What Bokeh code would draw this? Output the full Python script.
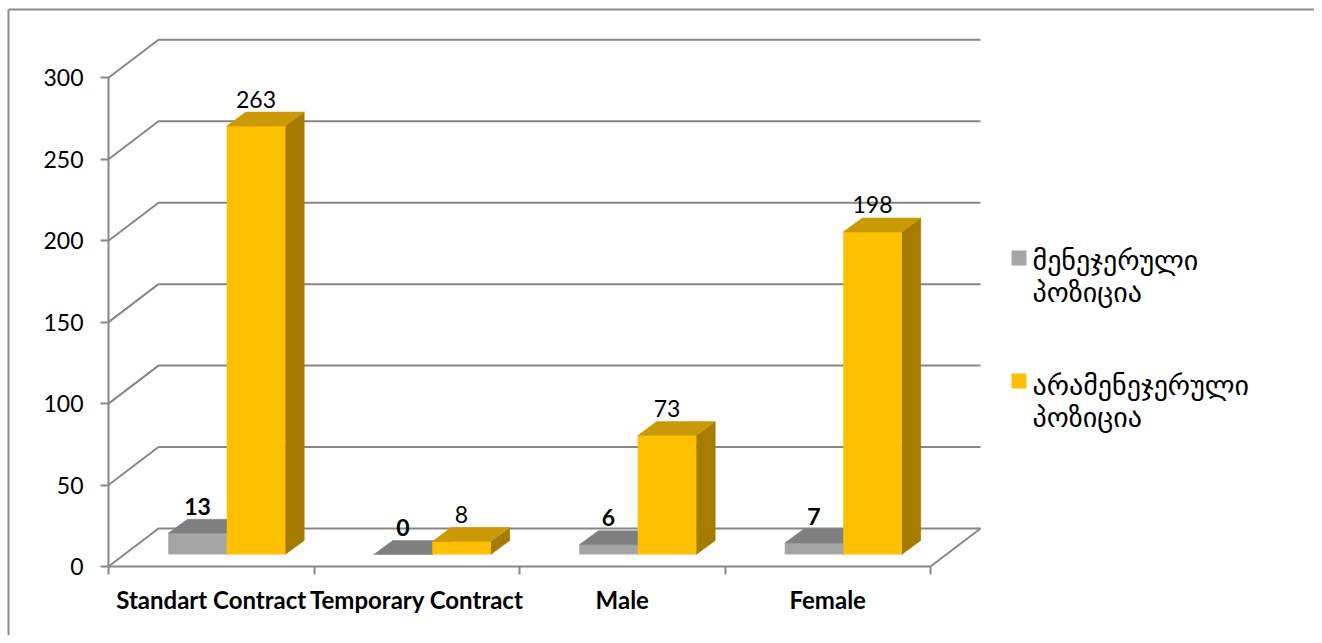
from bokeh.plotting import figure
from bokeh.models import Range1d, LinearAxis, FixedTicker, ColumnDataSource
from bokeh.embed import file_html
from bokeh.resources import INLINE
from bokeh.core.properties import value

# ---------------- data ----------------
categories = ["Standart Contract", "Temporary Contract", "Male", "Female"]
series_names = ["მენეჯერული პოზიცია", "არამენეჯერული პოზიცია"]
managerial = [13, 0, 6, 7]
non_managerial = [263, 8, 73, 198]
y_ticks = [0, 50, 100, 150, 200, 250, 300]

# ---------------- styling / projection ----------------
W, H = 1314, 635
PX_X = 205.5          # pixels per category
PX_Y = 1.629          # pixels per value unit
ORIGIN_X = 108        # px from canvas left to the front axis corner
ORIGIN_Y = 69         # px from canvas bottom to the front axis corner
WALL_DX, WALL_DY = 50 / PX_X, 38 / PX_Y
BAR_DX, BAR_DY = 19 / PX_X, 14 / PX_Y
BAR_W = 58.5 / PX_X
FX, FY = (WALL_DX - BAR_DX) / 2, (WALL_DY - BAR_DY) / 2
GRID = "#878787"
FONT = "Lato"
series_colors = [
    dict(front="#A5A5A5", top="#7F7F7F", side="#6F6F6F"),
    dict(front="#FFC000", top="#C99A06", side="#A57C00"),
]

n = len(categories)
xs0 = -ORIGIN_X / PX_X
ys0 = -ORIGIN_Y / PX_Y
xe0 = xs0 + W / PX_X
ye0 = ys0 + H / PX_Y


def sx(px):   # canvas px (from left) -> data x
    return xs0 + px / PX_X


def sy(py):   # canvas px (from top) -> data y
    return ye0 - py / PX_Y


p = figure(width=W, height=H,
           x_range=Range1d(xs0, xe0), y_range=Range1d(ys0, ye0),
           output_backend="svg", toolbar_location=None,
           x_axis_location=None, y_axis_location=None,
           min_border=0, min_border_left=0, min_border_right=0,
           min_border_top=0, min_border_bottom=0,
           outline_line_color=None, background_fill_color="white",
           border_fill_color="white")
p.xgrid.visible = False
p.ygrid.visible = False

# outer chart border (top and left visible)
p.segment(x0=[sx(8), sx(8)], y0=[sy(9), ys0], x1=[xe0, sx(8)], y1=[sy(9), sy(9)],
          line_color="#8c8c8c", line_width=2)

# walls: left-wall diagonals and back-wall gridlines
gx, gy = [], []
top = max(y_ticks)
for v in y_ticks:
    gx.append([0, WALL_DX, n + WALL_DX])
    gy.append([v, v + WALL_DY, v + WALL_DY])
gx.append([n, n + WALL_DX])
gy.append([0, WALL_DY])
p.multi_line(xs=gx, ys=gy, line_color=GRID, line_width=2)

# bars
for s, vals in enumerate([managerial, non_managerial]):
    col = series_colors[s]
    L, R, B, T = [], [], [], []
    top_x, top_y, side_x, side_y = [], [], [], []
    for i, v in enumerate(vals):
        c = i + 0.5 + FX
        x0 = c - BAR_W if s == 0 else c
        x1 = x0 + BAR_W
        y0 = FY
        y1 = FY + v
        L.append(x0); R.append(x1); B.append(y0); T.append(y1)
        top_x.append([x0, x1, x1 + BAR_DX, x0 + BAR_DX])
        top_y.append([y1, y1, y1 + BAR_DY, y1 + BAR_DY])
        side_x.append([x1, x1 + BAR_DX, x1 + BAR_DX, x1])
        side_y.append([y0, y0 + BAR_DY, y1 + BAR_DY, y1])
    p.patches(xs=side_x, ys=side_y, fill_color=col["side"], line_color=col["side"], line_width=0.5)
    p.quad(left=L, right=R, bottom=B, top=T, fill_color=col["front"], line_color=None)
    p.patches(xs=top_x, ys=top_y, fill_color=col["top"], line_color=col["top"], line_width=0.5)
    src = ColumnDataSource(dict(x=[(a + b) / 2 for a, b in zip(L, R)],
                                y=[t + BAR_DY for t in T],
                                t=[str(v) for v in vals]))
    p.text(x="x", y="y", text="t", source=src, text_align="center",
           text_baseline="alphabetic", y_offset=-13,
           text_font=value(FONT), text_font_size="23px",
           text_font_style="bold" if s == 0 else "normal", text_color="black")

# legend (square marker + two-line label per series)
LEG_SQ_X = 1018.5
LEG_SQ_Y = [257.5, 380.5]
LEG_TEXT_X = 1032
LEG_BASE = [260, 385]
LEG_LINE = 32
for s, name in enumerate(series_names):
    p.scatter(x=[sx(LEG_SQ_X)], y=[sy(LEG_SQ_Y[s])], marker="square", size=15,
              fill_color=series_colors[s]["front"], line_color=None)
    lines = name.split(" ")
    p.text(x=[sx(LEG_TEXT_X)] * len(lines),
           y=[sy(LEG_BASE[s] + k * LEG_LINE) for k in range(len(lines))],
           text=lines, text_align="left", text_baseline="alphabetic",
           text_font=value("DejaVu Sans"), text_font_size="28px", text_color="black")

# axes
yaxis = LinearAxis(fixed_location=0, ticker=FixedTicker(ticks=y_ticks),
                   bounds=(0, top),
                   axis_line_color=GRID, axis_line_width=2,
                   major_tick_line_color=GRID, major_tick_line_width=2,
                   major_tick_in=0, major_tick_out=8,
                   minor_tick_in=0, minor_tick_out=0,
                   major_label_standoff=17,
                   major_label_text_font=FONT, major_label_text_font_size="23px",
                   major_label_text_color="black")
p.add_layout(yaxis, "left")

centers = [i + 0.5 for i in range(n)]
xaxis = LinearAxis(fixed_location=0,
                   ticker=FixedTicker(ticks=centers, minor_ticks=list(range(n + 1))),
                   bounds=(0, n),
                   axis_line_color=GRID, axis_line_width=2,
                   major_tick_in=0, major_tick_out=0,
                   minor_tick_line_color=GRID, minor_tick_line_width=2,
                   minor_tick_in=0, minor_tick_out=8,
                   major_label_overrides={c: cat for c, cat in zip(centers, categories)},
                   major_label_standoff=10,
                   major_label_text_font=FONT, major_label_text_font_style="bold",
                   major_label_text_font_size="24px", major_label_text_color="black")
p.add_layout(xaxis, "below")

open("out.html", "w").write(file_html(p, INLINE))
